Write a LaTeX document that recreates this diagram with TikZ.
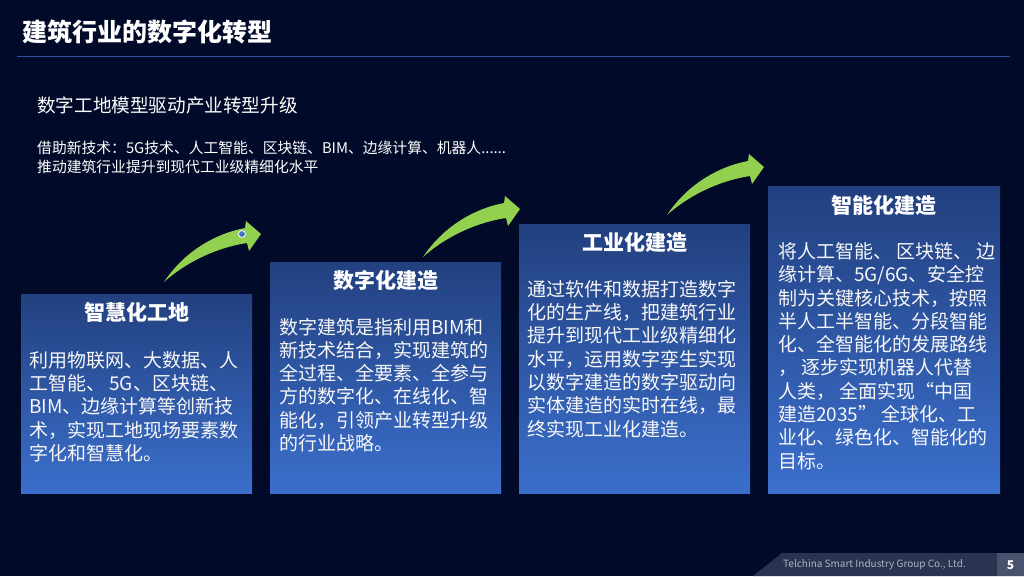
\documentclass[tikz,border=0pt]{standalone}
\usepackage{fontspec}
\setmainfont{Noto Sans CJK SC}
\usetikzlibrary{positioning}
\definecolor{cbg}{RGB}{1,10,40}
\definecolor{cline}{RGB}{47,80,160}
\definecolor{cboxtop}{RGB}{34,64,127}
\definecolor{cboxbot}{RGB}{59,111,204}
\definecolor{cgreen}{RGB}{146,208,80}
\definecolor{cdot}{RGB}{68,114,196}
\definecolor{cfoot}{RGB}{42,52,80}
\definecolor{cpage}{RGB}{72,82,108}
\definecolor{cfoottext}{RGB}{170,180,200}

\begin{document}
\begin{tikzpicture}[x=1pt, y=-1pt,
    stage/.style={anchor=north west, inner sep=0, minimum width=231pt, top color=cboxtop, bottom color=cboxbot, draw=none},
    stagetitle/.style={inner sep=0, text=white, font=\fontsize{21}{25}\selectfont\bfseries},
    stagetext/.style={anchor=west, inner sep=0, align=left, text=white!94!gray, font=\fontsize{19}{23.3}\selectfont},
    growth/.style={fill=cgreen, draw=none}
]
% background and header
\fill[cbg] (0,0) rectangle (1024,576);
\node[anchor=west, inner sep=0, text=white, font=\fontsize{25}{30}\selectfont\bfseries] (title) at (22,32) {建筑行业的数字化转型};
\draw[cline, line width=1pt] (17,56) -- (1010,56);
\node[anchor=west, inner sep=0, text=white, font=\fontsize{18.6}{22}\selectfont] (sub) at (37,105) {数字工地模型驱动产业转型升级};
\node[anchor=west, inner sep=0, align=left, text=white, font=\fontsize{14.8}{19}\selectfont] (intro) at (37,157.5) {借助新技术：5G技术、人工智能、区块链、BIM、边缘计算、机器人......\\推动建筑行业提升到现代工业级精细化水平};

% stages
\node[stage, minimum height=199pt] (site) at (21,294) {};
\node[stage, minimum height=231pt] (digital) at (270,262) {};
\node[stage, minimum height=269pt] (industrial) at (519,224) {};
\node[stage, minimum height=307pt, minimum width=232pt] (smart) at (768,186) {};

\node[stagetitle] (site-t) at (site.north) [yshift=-18pt] {智慧化工地};
\node[stagetitle] (digital-t) at (digital.north) [yshift=-18pt] {数字化建造};
\node[stagetitle] (industrial-t) at (industrial.north) [yshift=-18pt] {工业化建造};
\node[stagetitle] (smart-t) at (smart.north) [yshift=-19pt] {智能化建造};

\node[stagetext] (site-x) at (29,406.5) {利用物联网、大数据、人\\工智能、 5G、区块链、\\BIM、边缘计算等创新技\\术，实现工地现场要素数\\字化和智慧化。};
\node[stagetext] (digital-x) at (279,385) {数字建筑是指利用BIM和\\新技术结合，实现建筑的\\全过程、全要素、全参与\\方的数字化、在线化、智\\能化，引领产业转型升级\\的行业战略。};
\node[stagetext] (industrial-x) at (527,359) {通过软件和数据打造数字\\化的生产线，把建筑行业\\提升到现代工业级精细化\\水平，运用数字孪生实现\\以数字建造的数字驱动向\\实体建造的实时在线，最\\终实现工业化建造。};
\node[stagetext] (smart-x) at (778,356) {将人工智能、 区块链、 边\\缘计算、5G/6G、安全控\\制为关键核心技术，按照\\半人工半智能、分段智能\\化、全智能化的发展路线\\， 逐步实现机器人代替\\人类， 全面实现“中国\\建造2035” 全球化、工\\业化、绿色化、智能化的\\目标。};

% green arrows
\foreach \tx/\ty in {164/282, 423/257, 667/215}
  \fill[growth, shift={(\tx,\ty)}] (0,0) .. controls (20,-30) and (50,-48) .. (81,-54) -- (82,-61) -- (97,-48) -- (85,-31) -- (83,-39) .. controls (50,-34) and (20,-18) .. (0,0);
\filldraw[fill=cdot, draw=white, line width=0.8pt] (242,234) circle (3.5pt);

% footer
\fill[cfoot] (753,576) -- (782,553) -- (1024,553) -- (1024,576) -- cycle;
\fill[cpage] (997,553) rectangle (1024,576);
\node[anchor=west, inner sep=0, text=cfoottext, font=\fontsize{10}{12}\selectfont] (firm) at (783,565) {Telchina Smart Industry Group Co., Ltd.};
\node[inner sep=0, text=white, font=\fontsize{12}{14}\selectfont\bfseries] (page) at (1010.5,565) {5};
\end{tikzpicture}
\end{document}
